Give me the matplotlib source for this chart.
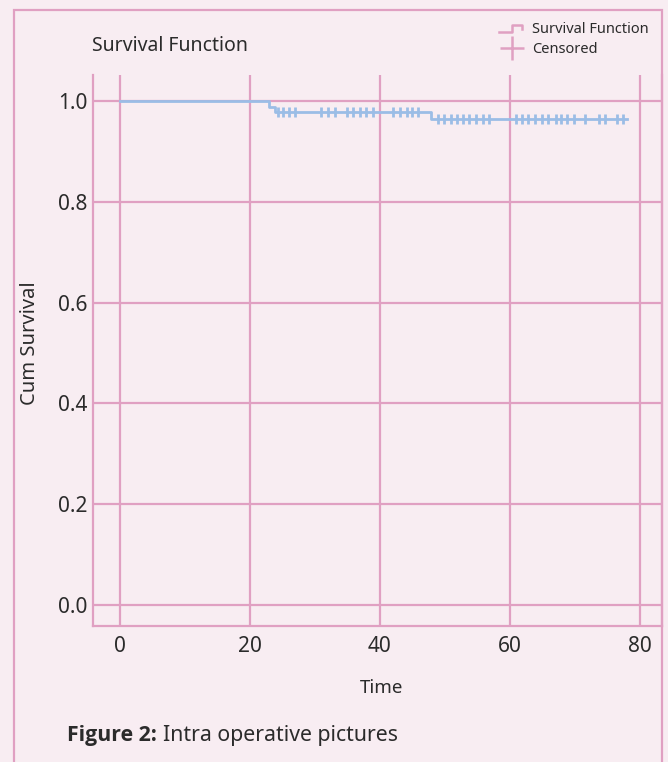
"""
Kaplan-Meier survival curve (Figure 2) recreated with matplotlib
"""

import numpy as np
import matplotlib
matplotlib.use('Agg')
import matplotlib.pyplot as plt
from matplotlib.lines import Line2D
from matplotlib.legend_handler import HandlerBase
from matplotlib.patches import Rectangle

plt.rcParams['font.family'] = ['Noto Sans', 'DejaVu Sans']

# step function: event times and cumulative survival after each event
event_times = [0, 22.9, 23.8, 47.8]
event_surv = [1.0, 0.989, 0.978, 0.965]
end_time = 78.0

# censored observations (time)
censored_times = [24.3, 25.1, 26.0, 27.0, 30.9, 32.0, 33.1,
                  35.0, 35.9, 36.9, 37.9, 39.0,
                  42.0, 43.1, 44.1, 44.9, 45.9,
                  49.0, 49.8, 50.9, 51.8, 52.8, 53.7, 54.8, 55.8, 56.8,
                  60.9, 61.8, 62.8, 63.8, 64.9, 65.9, 67.1, 67.8, 68.8, 69.8,
                  71.5, 73.7, 74.6, 76.5, 77.4]

x_ticks = [0, 20, 40, 60, 80]
y_ticks = [0.0, 0.2, 0.4, 0.6, 0.8, 1.0]

BG = '#F8EDF2'
PINK = '#E0A0C2'
BLUE = '#9BBDE6'
TEXT = '#2B2B2B'

W, H = 668, 762


def fx(px):
    return px / W


def fy(py):
    return 1 - py / H


class StepHandler(HandlerBase):
    """legend icon shaped like a small step"""
    def create_artists(self, legend, orig_handle, xdescent, ydescent,
                       width, height, fontsize, trans):
        xs = np.array([0, 0.5, 0.5, 0.92, 0.92]) * width - xdescent
        ys = np.array([0.1, 0.1, 0.85, 0.85, 0.45]) * height - ydescent
        ln = Line2D(xs, ys, color=PINK, lw=1.8, transform=trans)
        return [ln]


fig = plt.figure(figsize=(W / 100, H / 100), dpi=100, facecolor=BG)

# outer frame of the figure box
fig.patches.append(Rectangle((fx(14), -0.05), fx(662) - fx(14), fy(10) + 0.05,
                             transform=fig.transFigure, fill=False,
                             edgecolor=PINK, lw=1.6, zorder=0))

ax = fig.add_axes([fx(93), fy(626), fx(662) - fx(93), fy(75) - fy(626)])
ax.set_facecolor(BG)

# survival curve
st = list(event_times) + [end_time]
ss = list(event_surv) + [event_surv[-1]]
ax.step(st, ss, where='post', color=BLUE, lw=2, zorder=3)

# censored marks sit on the curve
idx = np.searchsorted(event_times, censored_times, side='right') - 1
cens_surv = np.array(event_surv)[idx]
ax.plot(censored_times, cens_surv, ls='none', marker='|', markersize=7,
        markeredgewidth=2, color=BLUE, zorder=3)

ax.set_xlim(-4.15, 83.4)
ax.set_ylim(-0.0417, 1.0516)
ax.set_xticks(x_ticks)
ax.set_yticks(y_ticks)
ax.set_yticklabels([f'{v:.1f}' for v in y_ticks])
ax.grid(True, color=PINK, lw=1.6)
ax.set_axisbelow(True)
ax.tick_params(length=0, labelsize=15, colors=TEXT, pad=4)
ax.tick_params(axis='x', pad=7)
for side in ['left', 'bottom', 'right']:
    ax.spines[side].set_color(PINK)
    ax.spines[side].set_linewidth(1.6)
ax.spines['top'].set_visible(False)

fig.text(fx(92), fy(46), 'Survival Function', fontsize=14, color=TEXT,
         ha='left', va='center')
fig.text(fx(30), fy(343), 'Cum Survival', fontsize=14.5, color=TEXT,
         rotation=90, ha='center', va='center')
fig.text(fx(382), fy(688), 'Time', fontsize=13.5, color=TEXT,
         ha='center', va='center')

# caption
cap_bold = fig.text(fx(67), fy(735), 'Figure 2:', fontsize=15.3,
                    fontweight='bold', family=['Open Sans', 'DejaVu Sans'],
                    color=TEXT, ha='left', va='center')
fig.canvas.draw()
bb = cap_bold.get_window_extent()
fig.text(fx(bb.x1 + 6), fy(735), 'Intra operative pictures', fontsize=15.3,
         color=TEXT, ha='left', va='center')

# legend
h_surv = Line2D([], [], color=PINK)
h_cens = Line2D([], [], color=PINK, ls='none', marker='+',
                markersize=17, markeredgewidth=1.8)
leg = fig.legend([h_surv, h_cens], ['Survival Function', 'Censored'],
                 handler_map={h_surv: StepHandler()},
                 loc='upper left', bbox_to_anchor=(fx(492), fy(15)),
                 frameon=False, fontsize=10.5, handlelength=1.7,
                 handletextpad=0.55, labelspacing=0.3, borderpad=0)
for t in leg.get_texts():
    t.set_color(TEXT)

fig.savefig('out.png', dpi=100, facecolor=BG)
